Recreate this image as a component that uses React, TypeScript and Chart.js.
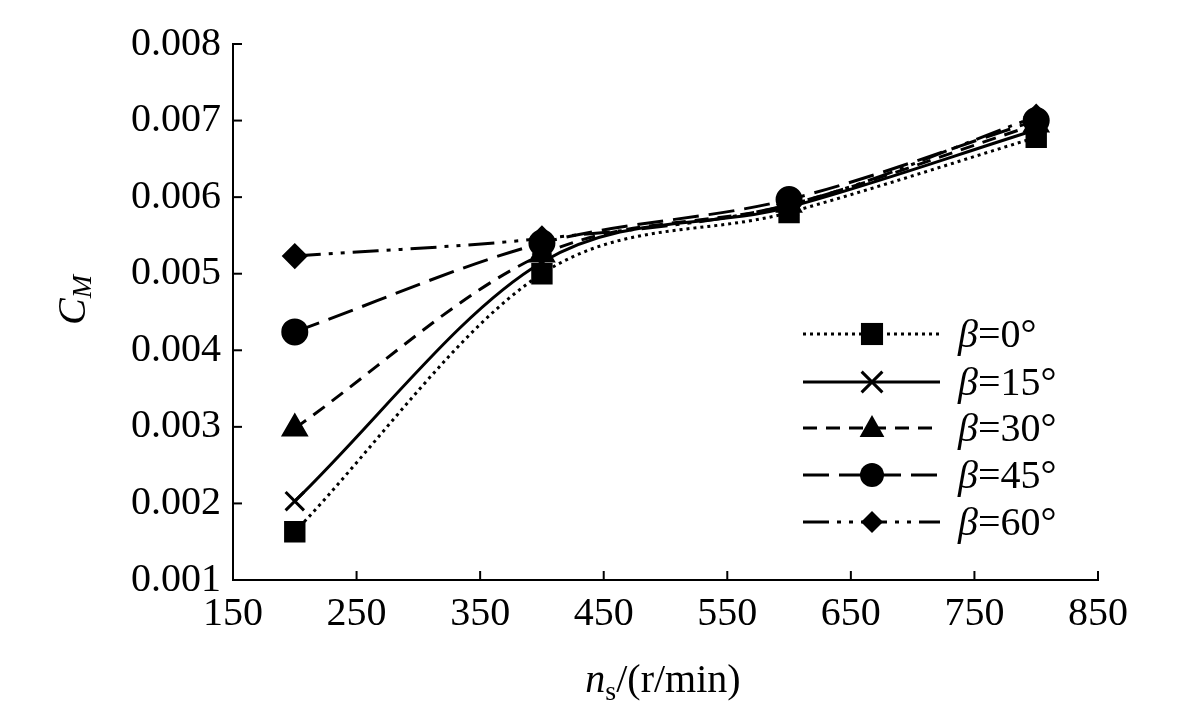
import React, { useEffect, useRef } from "react";
import { Chart, registerables } from "chart.js";
Chart.register(...registerables);

const speeds = [200, 400, 600, 800];
const beta0 = [0.00163, 0.00500, 0.00580, 0.00678];
const beta15 = [0.00203, 0.00515, 0.00587, 0.00688];
const beta30 = [0.00298, 0.00525, 0.00590, 0.00695];
const beta45 = [0.00424, 0.00540, 0.00597, 0.00700];
const beta60 = [0.00523, 0.00546, 0.00590, 0.00705];
const labels = ["β=0°", "β=15°", "β=30°", "β=45°", "β=60°"];
const xTicks = [150, 250, 350, 450, 550, 650, 750, 850];
const yTicks = [0.001, 0.002, 0.003, 0.004, 0.005, 0.006, 0.007, 0.008];

const FONT = "'Liberation Serif', 'Times New Roman', serif";
const styles = [
  { dash: [3, 4], point: "rect", r: 13 },
  { dash: [], point: "crossRot", r: 13 },
  { dash: [14, 9], point: "triangle", r: 13 },
  { dash: [26, 10], point: "circle", r: 12 },
  { dash: [26, 8, 4, 8, 4, 8], point: "rectRot", r: 11 },
];

function drawPoint(ctx: any, style: string, r: number, px: number, py: number) {
  ctx.save();
  ctx.setLineDash([]);
  ctx.fillStyle = "#000"; ctx.strokeStyle = "#000"; ctx.lineWidth = 3;
  if (style === "rect") ctx.fillRect(px - r * 0.85, py - r * 0.85, r * 1.7, r * 1.7);
  else if (style === "crossRot") {
    ctx.beginPath(); ctx.moveTo(px - r * 0.8, py - r * 0.8); ctx.lineTo(px + r * 0.8, py + r * 0.8);
    ctx.moveTo(px + r * 0.8, py - r * 0.8); ctx.lineTo(px - r * 0.8, py + r * 0.8); ctx.stroke();
  } else if (style === "triangle") {
    ctx.beginPath(); ctx.moveTo(px, py - r); ctx.lineTo(px + r * 0.95, py + r * 0.7); ctx.lineTo(px - r * 0.95, py + r * 0.7); ctx.closePath(); ctx.fill();
  } else if (style === "circle") {
    ctx.beginPath(); ctx.arc(px, py, r, 0, Math.PI * 2); ctx.fill();
  } else {
    ctx.beginPath(); ctx.moveTo(px, py - r); ctx.lineTo(px + r, py); ctx.lineTo(px, py + r); ctx.lineTo(px - r, py); ctx.closePath(); ctx.fill();
  }
  ctx.restore();
}

export default function App() {
  const ref = useRef<HTMLCanvasElement>(null);
  useEffect(() => {
    const series = [beta0, beta15, beta30, beta45, beta60];
    const deco = {
      id: "deco",
      afterDraw(chart: any) {
        const ctx = chart.ctx;
        const x = chart.scales.x, y = chart.scales.y;
        ctx.save();
        ctx.strokeStyle = "#000";
        ctx.lineWidth = 2;
        xTicks.forEach((v) => {
          const px = x.getPixelForValue(v);
          ctx.beginPath(); ctx.moveTo(px, y.bottom); ctx.lineTo(px, y.bottom - 9); ctx.stroke();
        });
        yTicks.forEach((v) => {
          const py = y.getPixelForValue(v);
          ctx.beginPath(); ctx.moveTo(x.left, py); ctx.lineTo(x.left + 9, py); ctx.stroke();
        });
        ctx.fillStyle = "#000";
        ctx.save();
        ctx.translate(66, 292);
        ctx.rotate(-Math.PI / 2);
        ctx.textBaseline = "middle";
        ctx.textAlign = "left";
        ctx.font = `italic 40px ${FONT}`;
        const cw = ctx.measureText("C").width;
        ctx.font = `italic 28px ${FONT}`;
        const mw = ctx.measureText("M").width;
        const start = -(cw + mw) / 2;
        ctx.font = `italic 40px ${FONT}`;
        ctx.fillText("C", start, 0);
        ctx.font = `italic 28px ${FONT}`;
        ctx.fillText("M", start + cw, 10);
        ctx.restore();
        ctx.textBaseline = "alphabetic";
        ctx.textAlign = "left";
        ctx.font = `italic 40px ${FONT}`;
        const nw = ctx.measureText("n").width;
        ctx.font = `28px ${FONT}`;
        const sw = ctx.measureText("s").width;
        ctx.font = `40px ${FONT}`;
        const rw = ctx.measureText("/(r/min)").width;
        let sx = 655 - (nw + sw + rw) / 2;
        const by = 684;
        ctx.font = `italic 40px ${FONT}`; ctx.fillText("n", sx, by); sx += nw;
        ctx.font = `28px ${FONT}`; ctx.fillText("s", sx, by + 8); sx += sw;
        ctx.font = `40px ${FONT}`; ctx.fillText("/(r/min)", sx, by);
        const rows = [326, 374, 420, 467, 514];
        rows.forEach((ry, i) => {
          const st = styles[i];
          ctx.setLineDash(st.dash);
          ctx.lineWidth = 3;
          ctx.strokeStyle = "#000";
          ctx.beginPath(); ctx.moveTo(795, ry); ctx.lineTo(932, ry); ctx.stroke();
          drawPoint(ctx, st.point, st.r, 864, ry);
          ctx.fillStyle = "#000";
          ctx.textBaseline = "middle";
          ctx.font = `italic 40px ${FONT}`;
          ctx.fillText("β", 950, ry + 2);
          const bw = ctx.measureText("β").width;
          ctx.font = `40px ${FONT}`;
          ctx.fillText(labels[i].slice(1), 950 + bw, ry + 2);
        });
        ctx.restore();
      },
    };
    const chart = new Chart(ref.current!, {
      type: "line",
      data: {
        datasets: series.map((s, i) => ({
          label: labels[i],
          data: speeds.map((x, j) => ({ x, y: s[j] })),
          borderColor: "#000",
          backgroundColor: "#000",
          borderWidth: 3,
          borderDash: styles[i].dash,
          pointStyle: styles[i].point as any,
          pointRadius: styles[i].r,
          pointBorderWidth: 3,
          cubicInterpolationMode: "monotone",
          fill: false,
        })),
      },
      plugins: [deco],
      options: {
        animation: false,
        responsive: false,
        layout: { padding: { top: -9, right: 75, left: 0, bottom: 0 } },
        plugins: { legend: { display: false }, tooltip: { enabled: false } },
        scales: {
          x: {
            type: "linear", min: 150, max: 850,
            afterFit: (s: any) => { s.height = 127; },
            afterBuildTicks: (s: any) => { s.ticks = xTicks.map((v) => ({ value: v })); },
            grid: { display: true, drawOnChartArea: false, drawTicks: false },
            border: { display: true, color: "#000", width: 2 },
            ticks: { color: "#000", font: { family: FONT, size: 40 }, padding: 10, maxRotation: 0 },
          },
          y: {
            min: 0.001, max: 0.008,
            afterFit: (s: any) => { s.width = 225; },
            afterBuildTicks: (s: any) => { s.ticks = yTicks.map((v) => ({ value: v })); },
            grid: { display: true, drawOnChartArea: false, drawTicks: false },
            border: { display: true, color: "#000", width: 2 },
            ticks: { color: "#000", font: { family: FONT, size: 40 }, padding: 12, callback: (v: any) => Number(v).toFixed(3) },
          },
        },
      },
    });
    return () => chart.destroy();
  }, []);
  return <canvas ref={ref} width={1165} height={699} style={{ display: "block" }} />;
}
